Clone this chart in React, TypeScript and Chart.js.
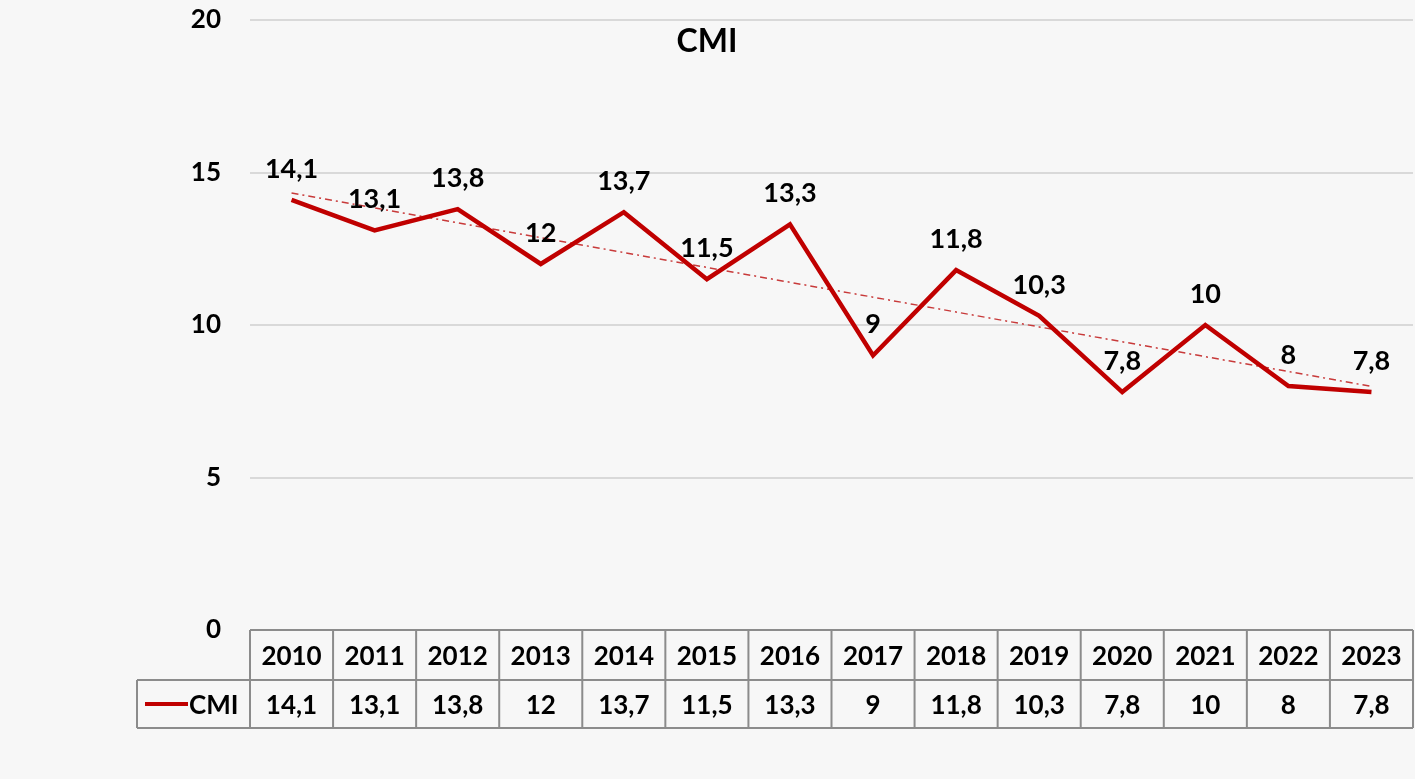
import React, { useEffect, useRef } from "react";
import { Chart, registerables } from "chart.js";

Chart.register(...registerables);

const categories = ["2010", "2011", "2012", "2013", "2014", "2015", "2016", "2017", "2018", "2019", "2020", "2021", "2022", "2023"];
const cmiValues = [14.1, 13.1, 13.8, 12, 13.7, 11.5, 13.3, 9, 11.8, 10.3, 7.8, 10, 8, 7.8];
const yTicks = [0, 5, 10, 15, 20];
const seriesName = "CMI";
const chartTitle = "CMI";

const FONT = "Lato, 'Open Sans', sans-serif";
const RED = "#c00000";

function fmt(v: number) {
  return String(v).replace(".", ",");
}

function linearTrend(vals: number[]) {
  const n = vals.length;
  let sx = 0, sy = 0, sxy = 0, sxx = 0;
  vals.forEach((y, i) => {
    const x = i + 1;
    sx += x; sy += y; sxy += x * y; sxx += x * x;
  });
  const b = (n * sxy - sx * sy) / (n * sxx - sx * sx);
  const a = (sy - b * sx) / n;
  return vals.map((_, i) => a + b * (i + 1));
}

const tablePlugin = {
  id: "tablePlugin",
  afterDraw(chart: any) {
    const ctx = chart.ctx;
    const x = chart.scales.x;
    const area = chart.chartArea;
    const n = categories.length;
    const colW = (area.right - area.left) / n;
    const top = area.bottom;
    const mid = top + 50;
    const bot = mid + 48;
    const legendLeft = 137;
    ctx.save();
    ctx.strokeStyle = "#8c8c8c";
    ctx.lineWidth = 2;
    ctx.beginPath();
    ctx.moveTo(area.left, top); ctx.lineTo(area.right, top);
    ctx.moveTo(legendLeft, mid); ctx.lineTo(area.right, mid);
    ctx.moveTo(legendLeft, bot); ctx.lineTo(area.right, bot);
    ctx.moveTo(legendLeft, mid); ctx.lineTo(legendLeft, bot);
    for (let i = 0; i <= n; i++) {
      const xx = area.left + i * colW;
      ctx.moveTo(xx, top); ctx.lineTo(xx, bot);
    }
    ctx.stroke();
    ctx.fillStyle = "#000";
    ctx.font = `bold 26px ${FONT}`;
    ctx.textAlign = "center";
    ctx.textBaseline = "middle";
    categories.forEach((c, i) => {
      const cx = x.getPixelForValue(i);
      ctx.fillText(c, cx, (top + mid) / 2 + 2);
      ctx.fillText(fmt(cmiValues[i]), cx, (mid + bot) / 2 + 2);
    });
    // legend key
    ctx.strokeStyle = RED;
    ctx.lineWidth = 4;
    ctx.beginPath();
    ctx.moveTo(145, (mid + bot) / 2);
    ctx.lineTo(188, (mid + bot) / 2);
    ctx.stroke();
    ctx.textAlign = "left";
    ctx.fillText(seriesName, 189, (mid + bot) / 2 + 2);
    // title
    ctx.font = `bold 32px ${FONT}`;
    ctx.textAlign = "center";
    ctx.fillText(chartTitle, 707, 42);
    ctx.restore();
  },
};

const labelPlugin = {
  id: "labelPlugin",
  afterDatasetsDraw(chart: any) {
    const ctx = chart.ctx;
    const meta = chart.getDatasetMeta(0);
    ctx.save();
    ctx.fillStyle = "#000";
    ctx.font = `bold 27px ${FONT}`;
    ctx.textAlign = "center";
    ctx.textBaseline = "middle";
    meta.data.forEach((pt: any, i: number) => {
      ctx.fillText(fmt(cmiValues[i]), pt.x, pt.y - 31);
    });
    ctx.restore();
  },
};

export default function App() {
  const ref = useRef<HTMLCanvasElement>(null);
  useEffect(() => {
    document.body.style.margin = "0";
    document.body.style.background = "#f7f7f7";
    const trend = linearTrend(cmiValues);
    const chart = new Chart(ref.current!, {
      type: "line",
      data: {
        labels: categories,
        datasets: [
          {
            label: seriesName,
            data: cmiValues,
            borderColor: RED,
            borderWidth: 4.5,
            pointRadius: 0,
            tension: 0,
          },
          {
            label: "trend",
            data: trend,
            borderColor: "#c83a3a",
            borderWidth: 1.5,
            borderDash: [7, 4, 2, 4],
            pointRadius: 0,
            tension: 0,
          },
        ],
      },
      options: {
        animation: false,
        responsive: true,
        maintainAspectRatio: false,
        layout: { padding: { top: 20, bottom: 149, left: 0, right: 2 } },
        plugins: { legend: { display: false }, title: { display: false }, tooltip: { enabled: false } },
        scales: {
          x: { display: false, offset: true },
          y: {
            min: 0,
            max: 20,
            afterFit: (s: any) => { s.width = 250; s.paddingTop = 0; s.paddingBottom = 0; },
            afterBuildTicks: (s: any) => { s.ticks = yTicks.map((v) => ({ value: v })); },
            border: { display: false },
            grid: { color: "#d9d9d9", lineWidth: 2, drawTicks: false },
            ticks: { color: "#000", padding: 29, font: { family: FONT, size: 26, weight: "bold" } },
          },
        },
      },
      plugins: [labelPlugin, tablePlugin],
    });
    return () => chart.destroy();
  }, []);
  return (
    <div style={{ position: "fixed", left: 0, top: 0, width: 1415, height: 779, background: "#f7f7f7" }}>
      <canvas ref={ref} />
    </div>
  );
}
